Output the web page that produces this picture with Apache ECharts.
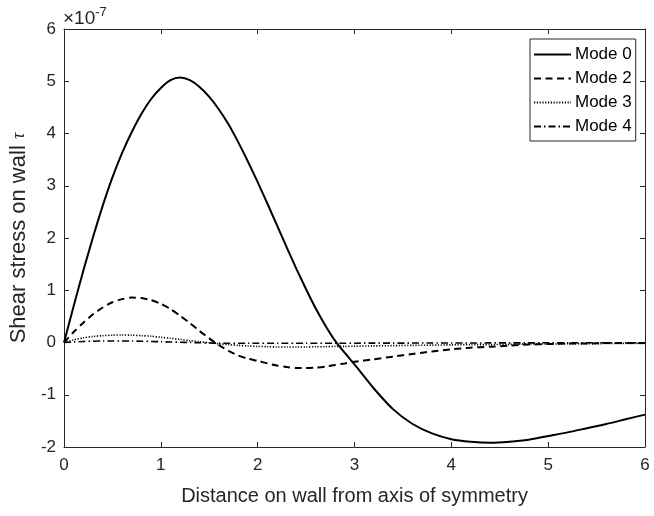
<!DOCTYPE html>
<html>
<head>
<meta charset="utf-8">
<script src="https://cdn.jsdelivr.net/npm/echarts@6/dist/echarts.min.js"></script>
<style>
  html, body { margin: 0; padding: 0; background: #ffffff; }
  #chart { width: 654px; height: 516px; }
</style>
</head>
<body>
<div id="chart"></div>
<script>
// Distance along the wall (shared sample positions)
const distance = [
  0, 0.1, 0.2, 0.3, 0.4, 0.5, 0.6, 0.7, 0.8, 0.9,
  1.0, 1.1, 1.2, 1.3, 1.4, 1.5, 1.6, 1.7, 1.8, 1.9,
  2.0, 2.1, 2.2, 2.3, 2.4, 2.5, 2.6, 2.7, 2.8, 2.9,
  3.0, 3.2, 3.4, 3.6, 3.8, 4.0, 4.2, 4.4, 4.6, 4.8,
  5.0, 5.2, 5.4, 5.6, 5.8, 6.0
];

// Wall shear stress per mode, in units of 1e-7
const mode0 = [
  0, 0.70, 1.38, 2.02, 2.62, 3.16, 3.63, 4.03, 4.38, 4.66,
  4.87, 5.02, 5.07, 5.02, 4.89, 4.70, 4.46, 4.17, 3.83, 3.46,
  3.07, 2.66, 2.24, 1.82, 1.41, 1.02, 0.65, 0.32, 0.03, -0.20,
  -0.42, -0.88, -1.28, -1.56, -1.74, -1.85, -1.90, -1.92, -1.90, -1.86,
  -1.79, -1.72, -1.64, -1.56, -1.47, -1.38
];
const mode2 = [
  0, 0.20, 0.38, 0.54, 0.67, 0.77, 0.83, 0.86, 0.85, 0.81,
  0.74, 0.64, 0.51, 0.37, 0.22, 0.08, -0.05, -0.16, -0.25, -0.31,
  -0.35, -0.40, -0.44, -0.47, -0.49, -0.49, -0.48, -0.46, -0.43, -0.40,
  -0.37, -0.32, -0.27, -0.22, -0.17, -0.13, -0.10, -0.08, -0.06, -0.04,
  -0.03, -0.02, -0.02, -0.01, -0.01, -0.01
];
const mode3 = [
  0, 0.05, 0.09, 0.115, 0.13, 0.14, 0.145, 0.14, 0.13, 0.12,
  0.10, 0.08, 0.06, 0.035, 0.015, -0.005, -0.025, -0.04, -0.055, -0.065,
  -0.075, -0.08, -0.085, -0.085, -0.085, -0.085, -0.08, -0.08, -0.075, -0.075,
  -0.07, -0.065, -0.06, -0.055, -0.05, -0.045, -0.04, -0.04, -0.035, -0.03,
  -0.03, -0.025, -0.025, -0.02, -0.02, -0.02
];
const mode4 = [
  0, 0.01, 0.02, 0.025, 0.03, 0.03, 0.03, 0.028, 0.025, 0.02,
  0.015, 0.01, 0.005, 0, -0.005, -0.01, -0.012, -0.014, -0.015, -0.015,
  -0.015, -0.015, -0.015, -0.015, -0.015, -0.015, -0.015, -0.015, -0.014, -0.014,
  -0.013, -0.012, -0.012, -0.011, -0.01, -0.01, -0.009, -0.008, -0.008, -0.007,
  -0.006, -0.006, -0.005, -0.005, -0.005, -0.005
];

const seriesNames = ['Mode 0', 'Mode 2', 'Mode 3', 'Mode 4'];
const xTicks = [0, 1, 2, 3, 4, 5, 6];
const yTicks = [-2, -1, 0, 1, 2, 3, 4, 5, 6];
const yExponent = '-7';

const ink = '#262626';
const font = 'Liberation Sans, Arial, Helvetica, sans-serif';

function pairs(ys) {
  return distance.map((x, i) => [x, ys[i]]);
}

const lineDefs = [
  { name: seriesNames[0], data: mode0, type: 'solid', width: 2 },
  { name: seriesNames[1], data: mode2, type: [7, 4.5], width: 2 },
  { name: seriesNames[2], data: mode3, type: [1.2, 1.6], width: 1.6 },
  { name: seriesNames[3], data: mode4, type: [7, 3, 1.5, 3], width: 1.6 }
];

const chart = echarts.init(document.getElementById('chart'), null, { renderer: 'canvas' });

const baseX = {
  type: 'value', min: xTicks[0], max: xTicks[xTicks.length - 1], interval: 1,
  axisLine: { show: true, onZero: false, lineStyle: { color: ink, width: 1 } },
  axisTick: { show: true, inside: true, length: 5, lineStyle: { color: ink, width: 1 } },
  splitLine: { show: false }
};
const baseY = {
  type: 'value', min: yTicks[0], max: yTicks[yTicks.length - 1], interval: 1,
  axisLine: { show: true, onZero: false, lineStyle: { color: ink, width: 1 } },
  axisTick: { show: true, inside: true, length: 5, lineStyle: { color: ink, width: 1 } },
  splitLine: { show: false }
};

chart.setOption({
  animation: false,
  backgroundColor: '#ffffff',
  grid: { left: 63, right: 9, top: 29, bottom: 69, containLabel: false },
  xAxis: [
    Object.assign({}, baseX, {
      position: 'bottom',
      name: 'Distance on wall from axis of symmetry',
      nameLocation: 'middle',
      nameGap: 39,
      nameTextStyle: { color: ink, fontSize: 20, fontFamily: font },
      axisLabel: { color: ink, fontSize: 17, fontFamily: font, margin: 10 }
    }),
    Object.assign({}, baseX, { position: 'top', axisLabel: { show: false } })
  ],
  yAxis: [
    Object.assign({}, baseY, {
      position: 'left',
      name: 'Shear stress on wall {t|τ}',
      nameLocation: 'middle',
      nameGap: 23,
      nameRotate: 90,
      nameTextStyle: {
        color: ink, fontSize: 22, fontFamily: font,
        rich: { t: { fontSize: 18, fontStyle: 'italic', fontFamily: 'Liberation Serif, DejaVu Serif, serif', color: ink } }
      },
      axisLabel: { color: ink, fontSize: 17, fontFamily: font, margin: 8 }
    }),
    Object.assign({}, baseY, { position: 'right', axisLabel: { show: false } })
  ],
  legend: {
    orient: 'vertical',
    left: 530,
    top: 39,
    data: seriesNames,
    itemWidth: 37,
    itemHeight: 14,
    itemGap: 7,
    padding: [7, 4, 6, 3],
    borderColor: ink,
    borderWidth: 1,
    backgroundColor: '#ffffff',
    itemStyle: { opacity: 0 },
    textStyle: { color: '#000000', fontSize: 17, fontFamily: font, padding: [0, 0, 0, -1] }
  },
  graphic: [
    {
      type: 'text',
      left: 63,
      top: 6,
      style: {
        text: '{b|×10}{s|' + yExponent + '}',
        fill: ink,
        rich: {
          b: { fontSize: 19, fontFamily: font, fill: ink, verticalAlign: 'bottom' },
          s: { fontSize: 13, fontFamily: font, fill: ink, verticalAlign: 'top', padding: [0, 0, 9, 0] }
        }
      }
    }
  ],
  series: lineDefs.map(d => ({
    name: d.name,
    type: 'line',
    xAxisIndex: 0,
    yAxisIndex: 0,
    data: pairs(d.data),
    symbol: 'none',
    smooth: 0.25,
    lineStyle: { color: '#000000', width: d.width, type: d.type },
    itemStyle: { color: '#000000' },
    z: 3
  }))
});
</script>
</body>
</html>
